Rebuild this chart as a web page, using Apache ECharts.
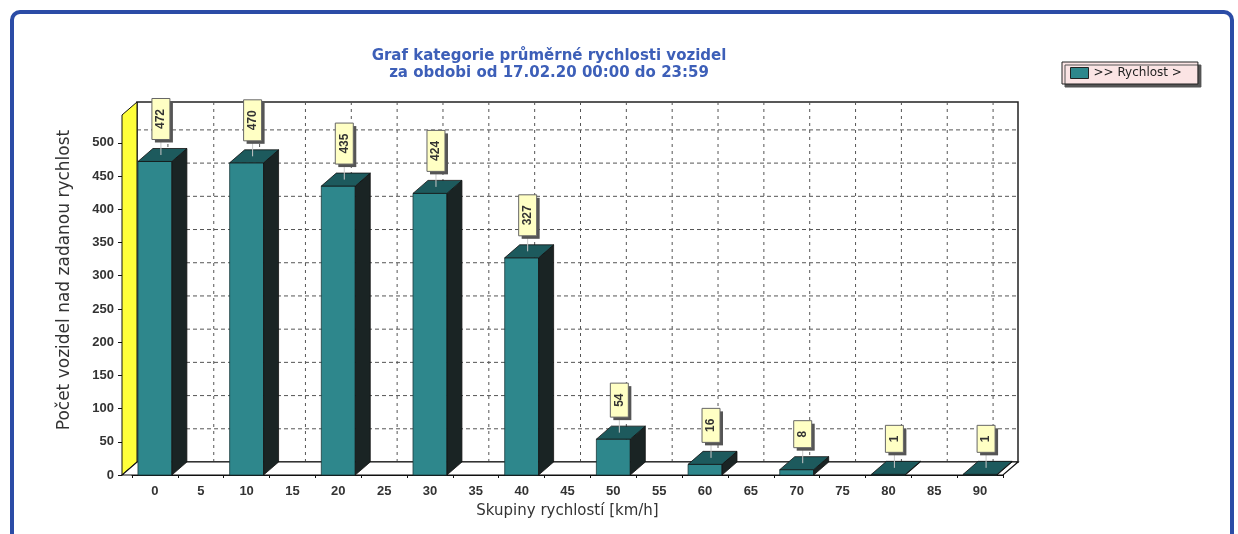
<!DOCTYPE html>
<html>
<head>
<meta charset="utf-8">
<script src="https://cdn.jsdelivr.net/npm/echarts@6/dist/echarts.min.js"></script>
<style>
html, body { margin: 0; padding: 0; background: #fff; }
#chart { width: 1238px; height: 534px; }
</style>
</head>
<body>
<div id="chart"></div>
<script>
// kategorie rychlosti a pocty vozidel
var categories = ['0', '5', '10', '15', '20', '25', '30', '35', '40', '45', '50', '55', '60', '65', '70', '75', '80', '85', '90'];
var counts = [472, 0, 470, 0, 435, 0, 424, 0, 327, 0, 54, 0, 16, 0, 8, 0, 1, 0, 1];
var yStep = 50;
var yTop = 542;

// hloubka 3D efektu (px)
var DX = 15, DY = -13;

var chart = echarts.init(document.getElementById('chart'));

var barData = counts.map(function (v, i) { return [i, v]; });

function renderBackground(params, api) {
    var cs = params.coordSys;
    var x0 = cs.x - 10, x1 = cs.x + cs.width;
    var yt = cs.y, yb = cs.y + cs.height;
    var els = [];
    // zadni stena
    els.push({
        type: 'rect',
        shape: { x: x0 + DX, y: yt + DY, width: x1 - x0, height: cs.height },
        style: { fill: '#fff', stroke: '#222', lineWidth: 1.5 }
    });
    // vodorovne mrizky
    for (var v = yStep; v < yTop; v += yStep) {
        var y = api.coord([0, v])[1] + DY;
        els.push({
            type: 'line',
            shape: { x1: x0 + DX, y1: y, x2: x1 + DX, y2: y },
            style: { stroke: '#555', lineWidth: 1, lineDash: [4, 3] }
        });
    }
    // svisle mrizky
    for (var i = 0; i < categories.length; i++) {
        var x = api.coord([i, 0])[0] + DX - 2;
        els.push({
            type: 'line',
            shape: { x1: x, y1: yt + DY, x2: x, y2: yb + DY },
            style: { stroke: '#555', lineWidth: 1, lineDash: [3, 4] }
        });
    }
    // zluta bocni stena
    els.push({
        type: 'polygon',
        shape: { points: [[x0, yb], [x0 + DX, yb + DY], [x0 + DX, yt + DY], [x0, yt]] },
        style: { fill: '#ffff3a', stroke: '#111', lineWidth: 1 }
    });
    // podlaha
    els.push({
        type: 'polygon',
        shape: { points: [[x0, yb], [x0 + DX, yb + DY], [x1 + DX, yb + DY], [x1, yb]] },
        style: { fill: '#fff', stroke: '#111', lineWidth: 1.2 }
    });
    return { type: 'group', children: els };
}

function renderBar(params, api) {
    var i = api.value(0), v = api.value(1);
    if (!v) return { type: 'group', children: [] };
    var top = api.coord([i, v]), base = api.coord([i, 0]);
    var bw = api.size([1, 0])[0] * 0.74;
    var xl = top[0] - bw / 2, xr = top[0] + bw / 2;
    var els = [];
    // predni strana
    els.push({
        type: 'rect',
        shape: { x: xl, y: top[1], width: bw, height: Math.max(base[1] - top[1], 0.5) },
        style: { fill: '#2e878c', stroke: '#1b3b3c', lineWidth: 0.8 }
    });
    // bocni strana
    els.push({
        type: 'polygon',
        shape: { points: [[xr, top[1]], [xr + DX, top[1] + DY], [xr + DX, base[1] + DY], [xr, base[1]]] },
        style: { fill: '#1a2424', stroke: '#111', lineWidth: 0.8 }
    });
    // horni strana
    els.push({
        type: 'polygon',
        shape: { points: [[xl, top[1]], [xl + DX, top[1] + DY], [xr + DX, top[1] + DY], [xr, top[1]]] },
        style: { fill: '#1d5a5d', stroke: '#111', lineWidth: 0.8 }
    });
    // popisek
    var txt = String(v);
    var h = 20 + 7 * txt.length, w = 18;
    var cx = top[0] + 6;
    var bottom = top[1] + DY - 9;
    els.push({
        type: 'line',
        shape: { x1: cx, y1: bottom, x2: cx, y2: top[1] + DY / 2 },
        style: { stroke: '#c8c8c8', lineWidth: 1 }
    });
    els.push({
        type: 'rect',
        shape: { x: cx - w / 2 + 3, y: bottom - h + 3, width: w, height: h },
        style: { fill: '#555' }
    });
    els.push({
        type: 'rect',
        shape: { x: cx - w / 2, y: bottom - h, width: w, height: h },
        style: { fill: '#ffffc4', stroke: '#666', lineWidth: 1 }
    });
    els.push({
        type: 'text',
        x: cx, y: bottom - h / 2,
        rotation: Math.PI / 2,
        style: {
            text: txt, align: 'center', verticalAlign: 'middle',
            fill: '#333', font: 'bold 12px "Liberation Sans", Arial, sans-serif'
        }
    });
    return { type: 'group', children: els };
}

var option = {
    animation: false,
    backgroundColor: '#fff',
    title: {
        text: 'Graf kategorie průměrné rychlosti vozidel\nza obdobi od 17.02.20 00:00 do 23:59',
        left: 544,
        top: 43,
        textAlign: 'center',
        textStyle: {
            color: '#3d5fb8',
            fontSize: 15,
            fontWeight: 'bold',
            lineHeight: 17,
            fontFamily: '"DejaVu Sans", sans-serif'
        }
    },
    legend: {
        left: 1062,
        top: 62,
        padding: [5, 16, 5, 8],
        itemWidth: 18,
        itemHeight: 11,
        itemGap: 6,
        backgroundColor: '#fbe4e4',
        borderColor: '#222',
        borderWidth: 1,
        shadowColor: '#555',
        shadowOffsetX: 3,
        shadowOffsetY: 3,
        shadowBlur: 0.1,
        icon: 'rect',
        itemStyle: { borderColor: '#222', borderWidth: 1 },
        textStyle: { color: '#222', fontSize: 12, fontFamily: '"DejaVu Sans", sans-serif' },
        data: ['>> Rychlost >']
    },
    graphic: [{
        type: 'rect',
        shape: { x: 12, y: 12, width: 1220, height: 540, r: 8 },
        style: { fill: 'none', stroke: '#2b4ca6', lineWidth: 4 },
        z: 100
    }],
    grid: { left: 132, right: 235, top: 115, bottom: 59 },
    xAxis: {
        type: 'category',
        data: categories,
        name: 'Skupiny rychlostí [km/h]',
        nameLocation: 'middle',
        nameGap: 29,
        nameTextStyle: { color: '#333', fontSize: 15, fontFamily: '"DejaVu Sans", sans-serif' },
        axisLine: { show: true, lineStyle: { color: '#111', width: 1.2 } },
        axisTick: { show: true, length: 3, lineStyle: { color: '#111' } },
        axisLabel: { color: '#333', fontSize: 13, fontWeight: 'bold', margin: 10, fontFamily: '"Liberation Sans", Arial, sans-serif' },
        splitLine: { show: false }
    },
    yAxis: {
        type: 'value',
        min: 0,
        max: yTop,
        interval: yStep,
        offset: 10,
        name: 'Počet vozidel nad zadanou rychlost',
        nameLocation: 'middle',
        nameGap: 49,
        nameTextStyle: { color: '#333', fontSize: 17, padding: [0, 0, 0, 30], fontFamily: '"DejaVu Sans", sans-serif' },
        axisLine: { show: true, lineStyle: { color: '#111', width: 1 } },
        axisTick: { show: true, length: 4, lineStyle: { color: '#111' } },
        axisLabel: { color: '#333', fontSize: 13, fontWeight: 'bold', margin: 8, showMaxLabel: false, fontFamily: '"Liberation Sans", Arial, sans-serif' },
        splitLine: { show: false }
    },
    series: [
        {
            type: 'custom',
            name: 'pozadi',
            z: 1,
            silent: true,
            renderItem: renderBackground,
            data: [[0, 0]]
        },
        {
            type: 'custom',
            name: '>> Rychlost >',
            z: 2,
            itemStyle: { color: '#2e878c' },
            renderItem: renderBar,
            encode: { x: 0, y: 1 },
            data: barData
        }
    ]
};

chart.setOption(option);
</script>
</body>
</html>
